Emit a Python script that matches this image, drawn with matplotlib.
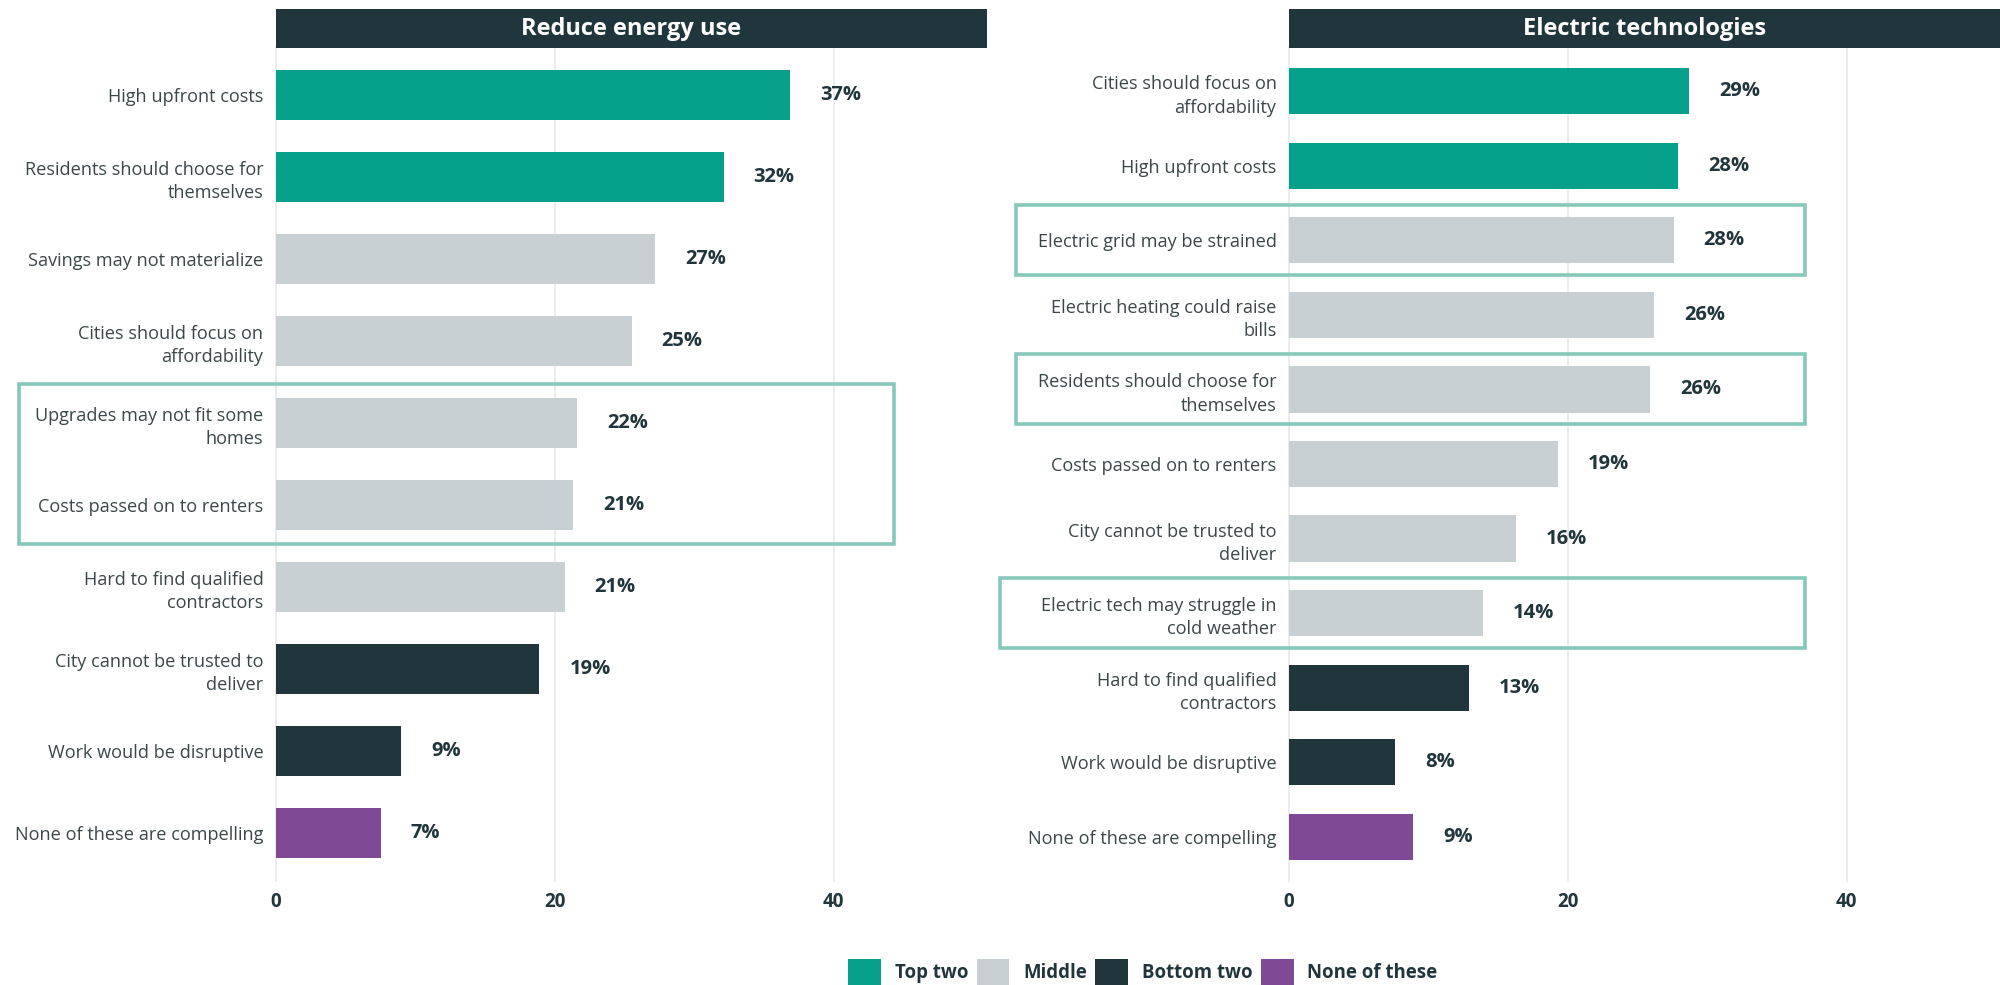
import matplotlib
matplotlib.use("Agg")
import matplotlib.pyplot as plt
from matplotlib.patches import Patch, Rectangle
import matplotlib.transforms as mtransforms

plt.rcParams['font.family'] = ['Open Sans', 'DejaVu Sans']

# ---------------- data ----------------
left_title = "Reduce energy use"
left_labels = ["High upfront costs", "Residents should choose for\nthemselves",
               "Savings may not materialize", "Cities should focus on\naffordability",
               "Upgrades may not fit some\nhomes", "Costs passed on to renters",
               "Hard to find qualified\ncontractors", "City cannot be trusted to\ndeliver",
               "Work would be disruptive", "None of these are compelling"]
left_values = [36.9, 32.1, 27.2, 25.5, 21.6, 21.3, 20.7, 18.9, 9.0, 7.5]
left_texts = ["37%", "32%", "27%", "25%", "22%", "21%", "21%", "19%", "9%", "7%"]
left_groups = ["top", "top", "mid", "mid", "mid", "mid", "mid", "bottom", "bottom", "none"]
left_highlight = [(4, 5)]

right_title = "Electric technologies"
right_labels = ["Cities should focus on\naffordability", "High upfront costs",
                "Electric grid may be strained", "Electric heating could raise\nbills",
                "Residents should choose for\nthemselves", "Costs passed on to renters",
                "City cannot be trusted to\ndeliver", "Electric tech may struggle in\ncold weather",
                "Hard to find qualified\ncontractors", "Work would be disruptive",
                "None of these are compelling"]
right_values = [28.7, 27.9, 27.6, 26.2, 25.9, 19.3, 16.3, 13.9, 12.9, 7.6, 8.9]
right_texts = ["29%", "28%", "28%", "26%", "26%", "19%", "16%", "14%", "13%", "8%", "9%"]
right_groups = ["top", "top", "mid", "mid", "mid", "mid", "mid", "mid", "bottom", "bottom", "none"]
right_highlight = [(2, 2), (4, 4), (7, 7)]

legend_keys = ["top", "mid", "bottom", "none"]
legend_names = ["Top two", "Middle", "Bottom two", "None of these"]
xticks = [0, 20, 40]

# ---------------- style ----------------
COL = {"top": "#07a18b", "mid": "#c9d0d3", "bottom": "#20363c", "none": "#7f4996"}
DARK = "#20363c"
LABEL_C = "#3b4649"
BOX_C = "#86c8ba"

W, H = 2000, 985
fig = plt.figure(figsize=(W / 100, H / 100), dpi=100)

ax_top_px, ax_bot_px = 54, 874
ax_w_px = 711


def make_panel(left_px, labels, values, texts, groups, title, bar_h, bar_right_px):
    ax = fig.add_axes([left_px / W, 1 - ax_bot_px / H, ax_w_px / W,
                       (ax_bot_px - ax_top_px) / H])
    n = len(labels)
    y = list(range(n))
    ax.barh(y, values, height=bar_h, color=[COL[g] for g in groups], zorder=3)
    ax.set_xlim(0, 51)
    ax.set_ylim(n - 0.5, -0.5)
    ax.set_yticks(y)
    ax.set_yticklabels(labels, fontsize=13.1, color=LABEL_C, linespacing=1.38)
    ax.set_xticks(xticks)
    ax.set_xticklabels([str(t) for t in xticks], fontsize=13.5, fontweight='bold', color=DARK)
    ax.tick_params(axis='y', length=0, pad=9)
    ax.tick_params(axis='x', length=0, pad=13)
    for s in ax.spines.values():
        s.set_visible(False)
    for t in xticks:
        ax.axvline(t, ymin=-0.008, ymax=1.009, color="#e8e9ea", lw=1.2,
                   zorder=0, clip_on=False)
    # value labels
    off = mtransforms.offset_copy(ax.transData, fig=fig, x=30 * 0.72, y=0, units='points')
    for yi, v, t in zip(y, values, texts):
        ax.text(v, yi, t, transform=off, ha='left', va='center', fontsize=14.5,
                fontweight='bold', color=DARK)
    # title bar
    tb = Rectangle((left_px / W, 1 - 48 / H), (bar_right_px - left_px) / W,
                   39 / H, transform=fig.transFigure, facecolor=DARK, edgecolor='none')
    fig.add_artist(tb)
    cx = (left_px + bar_right_px) / 2
    fig.text(cx / W, 1 - 29 / H, title, ha='center', va='center', color='white',
             fontsize=17, fontweight='bold')
    return ax


def add_boxes(ax, highlights, box_lefts, box_right, pad):
    trans = mtransforms.blended_transform_factory(fig.transFigure, ax.transData)
    for (i0, i1), bl in zip(highlights, box_lefts):
        r = Rectangle((bl / W, i0 - pad), (box_right - bl) / W, (i1 - i0) + 2 * pad,
                      transform=trans, facecolor='none', edgecolor=BOX_C, lw=2.6,
                      clip_on=False, zorder=5)
        fig.add_artist(r)


axL = make_panel(276, left_labels, left_values, left_texts, left_groups, left_title,
                 0.61, 987)
axR = make_panel(1289, right_labels, right_values, right_texts, right_groups, right_title,
                 0.62, 2000)
add_boxes(axL, left_highlight, [19], 894, 0.47)
add_boxes(axR, right_highlight, [1016, 1016, 1000], 1805, 0.47)

handles = [Patch(facecolor=COL[k], edgecolor='none') for k in legend_keys]
leg = fig.legend(handles, legend_names, loc='center', bbox_to_anchor=(0.5715, 0.0135),
                 ncol=4, frameon=False, handlelength=1.75, handleheight=1.75,
                 handletextpad=0.75, columnspacing=0.45, borderpad=0,
                 prop={'family': ['Open Sans', 'DejaVu Sans'], 'weight': 'bold', 'size': 13.4})
for t in leg.get_texts():
    t.set_color(DARK)

fig.savefig("out.png", dpi=100, facecolor='white')
